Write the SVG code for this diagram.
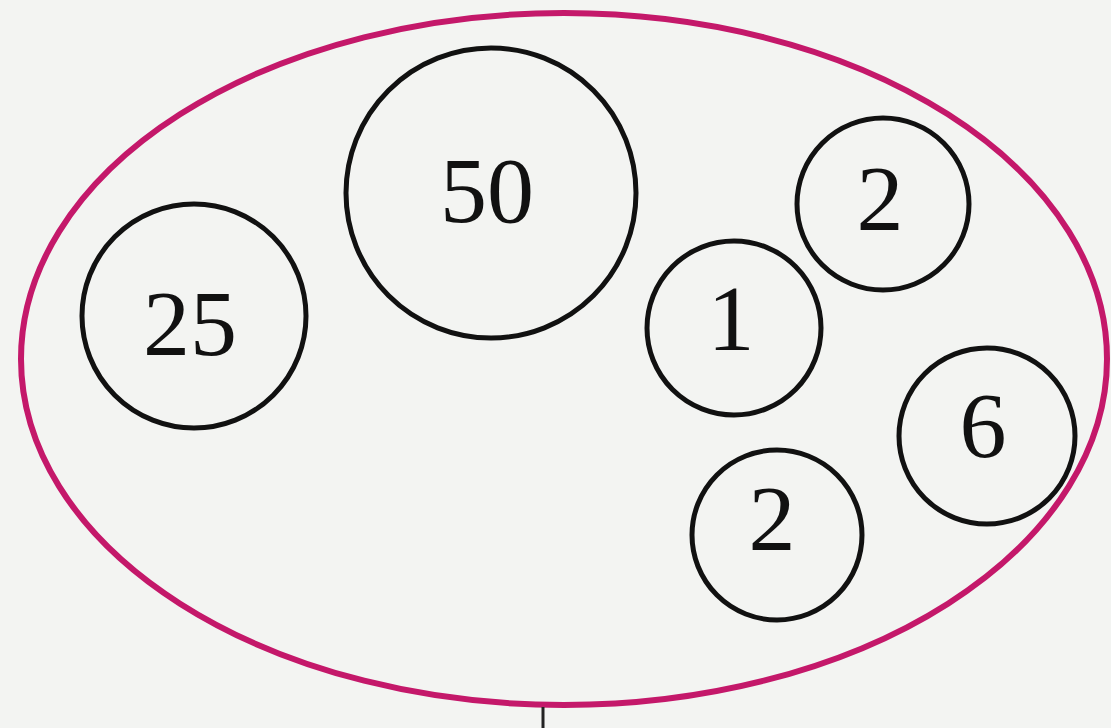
<svg xmlns="http://www.w3.org/2000/svg" width="1111" height="728" viewBox="0 0 1111 728">
  <style>
    .node circle { fill: none; stroke: #111; stroke-width: 5; }
    .node text { font-family: "Liberation Serif", "Times New Roman", serif; font-size: 94px; fill: #111; text-anchor: middle; }
    .set { fill: none; stroke: #c4186a; stroke-width: 6; }
  </style>
  <rect x="0" y="0" width="1111" height="728" fill="#f3f4f2"/>
  <g id="set">
    <ellipse class="set" cx="564" cy="359" rx="543" ry="346"/>
  </g>
  <g id="node-25" class="node">
    <circle cx="194" cy="316" r="112"/>
    <text x="190" y="355">25</text>
  </g>
  <g id="node-50" class="node">
    <circle cx="491" cy="193" r="145"/>
    <text x="487" y="222">50</text>
  </g>
  <g id="node-2a" class="node">
    <circle cx="883" cy="204" r="86"/>
    <text x="880" y="230">2</text>
  </g>
  <g id="node-1" class="node">
    <circle cx="734" cy="328" r="87"/>
    <text x="731" y="350">1</text>
  </g>
  <g id="node-6" class="node">
    <circle cx="987" cy="436" r="88"/>
    <text x="983" y="457">6</text>
  </g>
  <g id="node-2b" class="node">
    <circle cx="777" cy="535" r="85"/>
    <text x="772" y="550">2</text>
  </g>
  <g id="connectors">
    <line x1="543" y1="707" x2="543" y2="728" stroke="#222" stroke-width="3"/>
  </g>
</svg>
